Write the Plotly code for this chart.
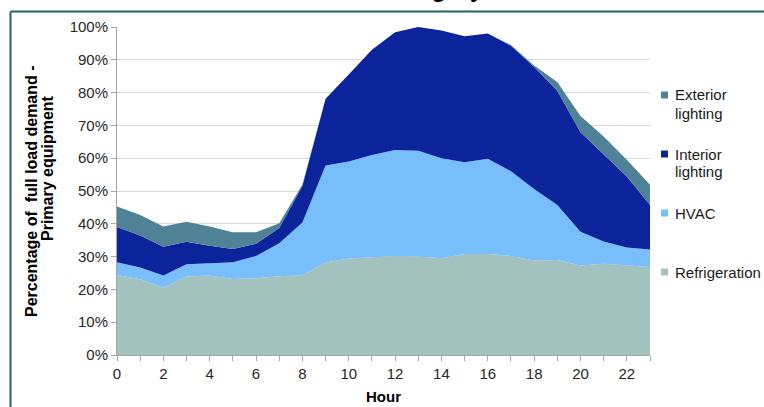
import plotly.graph_objects as go

# Hour of day
hours = list(range(24))

# Share of full load demand (%) for each end use, stacked bottom to top
refrigeration = [24.4, 23.1, 20.5, 23.9, 24.2, 23.2, 23.4, 24.0, 24.3, 28.2, 29.4, 29.8,
                 30.2, 30.0, 29.5, 30.8, 30.8, 30.2, 28.8, 29.0, 27.3, 27.8, 27.2, 26.8]
hvac = [3.9, 3.6, 3.7, 3.8, 3.8, 5.1, 6.8, 10.1, 16.1, 29.6, 29.6, 31.2,
        32.3, 32.3, 30.5, 28.0, 29.0, 25.8, 21.8, 16.7, 10.3, 6.8, 5.6, 5.4]
interior_lighting = [10.7, 9.7, 8.8, 6.8, 5.3, 4.0, 3.7, 4.6, 11.1, 20.3, 26.5, 32.1,
                     35.9, 37.7, 38.9, 38.4, 38.2, 38.3, 37.2, 34.9, 30.3, 26.4, 21.6, 13.5]
exterior_lighting = [6.3, 6.3, 6.2, 6.1, 5.9, 5.1, 3.5, 1.5, 0.5, 0.0, 0.0, 0.0,
                     0.0, 0.0, 0.0, 0.0, 0.0, 0.2, 0.5, 2.6, 5.0, 5.6, 5.1, 6.2]

series_names = ["Refrigeration", "HVAC", "Interior lighting", "Exterior lighting"]
series_values = [refrigeration, hvac, interior_lighting, exterior_lighting]
series_colors = ["#A4C3BE", "#78BEFA", "#0B239B", "#4F8197"]
legend_lines = {
    "Exterior lighting": ["Exterior", "lighting"],
    "Interior lighting": ["Interior", "lighting"],
    "HVAC": ["HVAC"],
    "Refrigeration": ["Refrigeration"],
}

x_tick_vals = list(range(0, 24, 2))
y_tick_vals = list(range(0, 101, 10))
y_tick_text = [f"{v}%" for v in y_tick_vals]

FONT = "Liberation Sans, Arial, sans-serif"

fig = go.Figure()

# Stacked areas
for name, vals, col in zip(series_names, series_values, series_colors):
    fig.add_trace(go.Scatter(
        x=hours, y=vals, name=name, stackgroup="load",
        mode="lines", line=dict(width=0, color=col),
        fillcolor=col, showlegend=False, hoverinfo="x+y+name",
    ))

# Plot area geometry in pixels, used to place items outside the axes
L, R, T, B = 117, 650, 27, 355
W, H = R - L, B - T


def px_x(px):
    return (px - L) / W


def px_y(py):
    return (B - py) / H


frame_col = "#25645F"
shapes = [
    dict(type="line", xref="paper", yref="paper",
         x0=px_x(10.5), x1=px_x(770), y0=px_y(11.5), y1=px_y(11.5),
         line=dict(color=frame_col, width=2)),
    dict(type="line", xref="paper", yref="paper",
         x0=px_x(10.5), x1=px_x(10.5), y0=px_y(11.5), y1=px_y(412),
         line=dict(color=frame_col, width=2)),
]

annotations = [
    dict(text="Percentage of  full load demand -",
         x=px_x(31), y=px_y(191), xref="paper", yref="paper",
         xanchor="center", yanchor="middle", textangle=-90, showarrow=False,
         font=dict(family=FONT, size=16, color="black", weight="bold")),
    dict(text="Primary equipment",
         x=px_x(47), y=px_y(168), xref="paper", yref="paper",
         xanchor="center", yanchor="middle", textangle=-90, showarrow=False,
         font=dict(family=FONT, size=16, color="black", weight="bold")),
    dict(text="Hour", x=0.5, y=px_y(396), xref="paper", yref="paper",
         xanchor="center", yanchor="middle", showarrow=False,
         font=dict(family=FONT, size=15, color="black", weight="bold")),
    dict(text="End-use category", x=px_x(383), y=px_y(3.5), xref="paper", yref="paper",
         xanchor="center", yanchor="bottom", showarrow=False,
         font=dict(family=FONT, size=24, color="black", weight="bold")),
]

# Legend: square key plus label, top series first
row_top, row_step, line_step = 95, 59, 18
key_x, key_size, text_x = 664.5, 7, 673
for i, (name, col) in enumerate(reversed(list(zip(series_names, series_colors)))):
    yc = row_top + i * row_step
    shapes.append(dict(
        type="rect", xref="paper", yref="paper",
        x0=px_x(key_x - key_size / 2), x1=px_x(key_x + key_size / 2),
        y0=px_y(yc - key_size / 2), y1=px_y(yc + key_size / 2),
        fillcolor=col, line=dict(width=0),
    ))
    for j, line in enumerate(legend_lines[name]):
        annotations.append(dict(
            text=line, x=px_x(text_x), y=px_y(yc + j * line_step),
            xref="paper", yref="paper", xanchor="left", yanchor="middle",
            showarrow=False, font=dict(family=FONT, size=15, color="#1A1A1A"),
        ))

fig.update_layout(
    width=764, height=407,
    margin=dict(l=L, r=764 - R, t=T, b=407 - B),
    paper_bgcolor="white", plot_bgcolor="white",
    font=dict(family=FONT, size=15, color="#262626"),
    showlegend=False,
    xaxis=dict(
        range=[0, 23], tickvals=x_tick_vals, ticktext=[str(v) for v in x_tick_vals],
        showgrid=False, zeroline=False,
        showline=True, linecolor="#A6A6A6", linewidth=1,
        ticks="outside", ticklen=5, tickcolor="#A6A6A6",
        minor=dict(dtick=1, ticks="outside", ticklen=5, tickcolor="#A6A6A6"),
        tickfont=dict(family=FONT, size=15, color="#262626"),
    ),
    yaxis=dict(
        range=[0, 100], tickvals=y_tick_vals, ticktext=y_tick_text,
        showgrid=True, gridcolor="#D9D9D9", gridwidth=1, zeroline=False,
        showline=True, linecolor="#A6A6A6", linewidth=1,
        ticks="outside", ticklen=5, tickcolor="#A6A6A6",
        tickfont=dict(family=FONT, size=15, color="#262626"),
    ),
    annotations=annotations,
    shapes=shapes,
)

fig.write_html("out.html")
